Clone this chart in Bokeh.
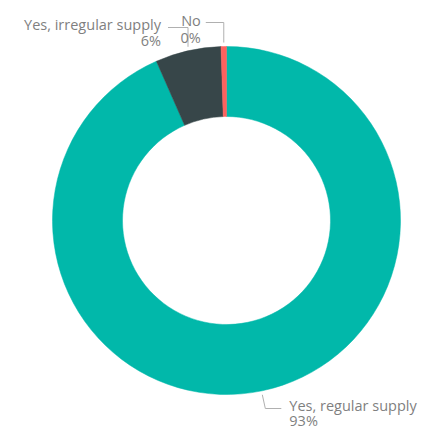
import math
from bokeh.plotting import figure
from bokeh.models import Range1d, ColumnDataSource
from bokeh.core.properties import value
from bokeh.embed import file_html
from bokeh.resources import INLINE

categories = ["Yes, regular supply", "Yes, irregular supply", "No"]
shares = [93.4, 6.1, 0.5]
pct_labels = ["93%", "6%", "0%"]
colors = ["#01B8AA", "#374649", "#FD625E"]

CX, CY = 226, 220
R_OUT, R_IN = 174, 104
FONT = "Open Sans"
TXT = "#7f7f7f"
LINE = "#b0b0b0"

total = sum(shares)
starts, ends, mids = [], [], []
acc = 0.0
for s in shares:
    a0 = acc / total * 2 * math.pi
    acc += s
    a1 = acc / total * 2 * math.pi
    starts.append(math.pi / 2 - a1)
    ends.append(math.pi / 2 - a0)
    mids.append((a0 + a1) / 2)

p = figure(width=429, height=429, output_backend="svg", toolbar_location=None,
           x_range=Range1d(0, 429), y_range=Range1d(429, 0),
           min_border=0, outline_line_color=None)
p.axis.visible = False
p.grid.visible = False
p.background_fill_color = "white"

src = ColumnDataSource(dict(start=starts, end=ends, color=colors, cat=categories))
p.annular_wedge(x=CX, y=CY, inner_radius=R_IN, outer_radius=R_OUT,
                start_angle="start", end_angle="end", color="color",
                line_color="color", line_width=0.5, source=src)

def anchor(i):
    a = mids[i]
    return CX + R_OUT * math.sin(a), CY - R_OUT * math.cos(a)

# (elbow y, horizontal dx, text gap, align, name baseline, pct baseline)
layouts = [
    (408, 16, 8, "left", 405, 420),
    (27, -20, -7, "right", 24, 40),
    (22, -18, -5, "right", 20, 37),
]
for i, (ey, dx, gap, align, yb1, yb2) in enumerate(layouts):
    ax, ay = anchor(i)
    ay = ay + 4 if i == 0 else ay - 4
    ex = ax + (3 if i == 0 else 0)
    hx = ex + dx
    p.line([ax, ex, hx], [ay, ey, ey], line_color=LINE, line_width=1)
    tx = hx + gap
    p.text(x=[tx, tx], y=[yb1, yb2], text=[categories[i], pct_labels[i]],
           text_font=value(FONT), text_font_size="14.5px", text_color=TXT,
           text_align=align, text_baseline="alphabetic")

open("out.html", "w").write(file_html(p, INLINE))
